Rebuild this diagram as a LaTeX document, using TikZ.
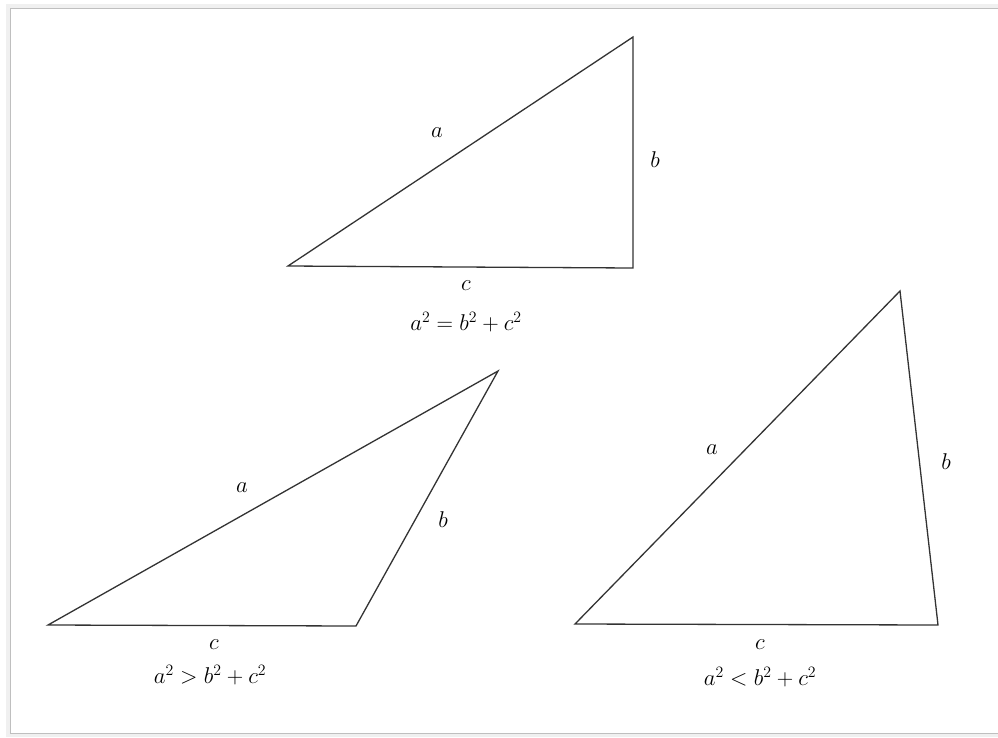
\documentclass[tikz,border=0pt]{standalone}
\begin{document}
\begin{tikzpicture}[x=1pt,y=-1pt,
  side/.style={draw=black!80,line width=1.3pt,line join=miter},
  lbl/.style={inner sep=0pt,font=\fontsize{20}{24}\selectfont}]
\useasboundingbox (0,0) rectangle (998,737);
% page frame
\fill[black!6] (6,4) rectangle (998,737);
\fill[white] (10,8) rectangle (998,733);
\draw[black!25,line width=1pt] (10,8) -- (998,8);
\draw[black!25,line width=1pt] (10,8) -- (10,733) -- (998,733);
% triangle 1: right triangle
\coordinate (A1) at (288,266);
\coordinate (B1) at (633,268);
\coordinate (C1) at (633,37);
\draw[side] (A1) -- (B1) -- (C1) -- cycle;
\node[lbl] (a1) at (437,133) {\scalebox{1.1}{$a$}};
\node[lbl] (b1) at (655,160) {\scalebox{1.1}{$b$}};
\node[lbl] (c1) at (466,286) {\scalebox{1.1}{$c$}};
\node[lbl] (e1) at (466,322) {\scalebox{1.1}{$a^2=b^2+c^2$}};
% triangle 2: obtuse
\coordinate (A2) at (48,625);
\coordinate (B2) at (356,626);
\coordinate (C2) at (498,371);
\draw[side] (A2) -- (B2) -- (C2) -- cycle;
\node[lbl] (a2) at (242,488) {\scalebox{1.1}{$a$}};
\node[lbl] (b2) at (443,520) {\scalebox{1.1}{$b$}};
\node[lbl] (c2) at (214,645) {\scalebox{1.1}{$c$}};
\node[lbl] (e2) at (210,675) {\scalebox{1.1}{$a^2>b^2+c^2$}};
% triangle 3: acute
\coordinate (A3) at (575,624);
\coordinate (B3) at (938,625);
\coordinate (C3) at (900,291);
\draw[side] (A3) -- (B3) -- (C3) -- cycle;
\node[lbl] (a3) at (712,450) {\scalebox{1.1}{$a$}};
\node[lbl] (b3) at (946,462) {\scalebox{1.1}{$b$}};
\node[lbl] (c3) at (760,645) {\scalebox{1.1}{$c$}};
\node[lbl] (e3) at (760,677) {\scalebox{1.1}{$a^2<b^2+c^2$}};
\end{tikzpicture}
\end{document}
